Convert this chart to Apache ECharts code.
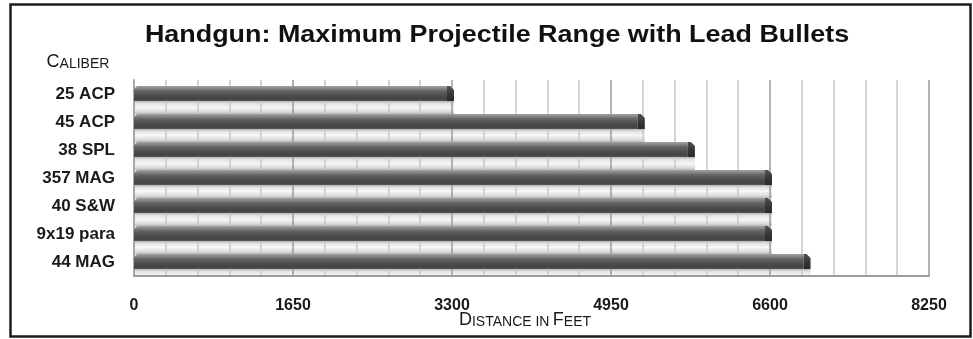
<!DOCTYPE html>
<html>
<head>
<meta charset="utf-8">
<script src="https://cdn.jsdelivr.net/npm/echarts@6/dist/echarts.min.js"></script>
<style>
  html, body { margin: 0; padding: 0; background: #fff; }
  #chart { width: 973px; height: 339px; }
</style>
</head>
<body>
<div id="chart"></div>
<script>
// Handgun calibers, top to bottom
const calibers = ['25 ACP', '45 ACP', '38 SPL', '357 MAG', '40 S&W', '9x19 para', '44 MAG'];
// Maximum projectile range, feet
const maxRangeFeet = [3300, 5280, 5800, 6600, 6600, 6600, 7000];
// Labelled ticks on the distance axis
const distanceTicks = [0, 1650, 3300, 4950, 6600, 8250];

const FONT = '"Liberation Sans", Arial, sans-serif';

const barData = maxRangeFeet.map((v, i) => [v, i]);

// Geometry of one bar slot relative to the category centre
function slotGeom(api) {
  const v = api.value(0), i = api.value(1);
  const start = api.coord([0, i]);
  const end = api.coord([v, i]);
  const slot = api.size([0, 1])[1];
  return {
    x0: start[0],
    xe: end[0] + 2,               // small depth offset of the 3D face
    top: end[1] - slot * 0.29,
    bot: end[1] + slot * 0.25,
    slot
  };
}

// Light reflective floor strip under each bar
function renderFloor(params, api) {
  const g = slotGeom(api);
  const cs = params.coordSys;
  const y1 = g.bot;
  let y2 = g.bot + g.slot * 0.46;
  const limit = cs.y + cs.height;
  const fullH = y2 - y1;
  if (y2 > limit) y2 = limit;
  return {
    type: 'rect',
    shape: { x: g.x0, y: y1, width: g.xe - g.x0, height: y2 - y1 },
    style: {
      fill: new echarts.graphic.LinearGradient(0, 0, 0, fullH / (y2 - y1), [
        { offset: 0, color: '#b0b0b0' },
        { offset: 0.18, color: '#e2e2e2' },
        { offset: 0.5, color: '#f6f6f6' },
        { offset: 0.82, color: '#dcdcdc' },
        { offset: 1, color: '#bababa' }
      ])
    },
    silent: true
  };
}

// Dark cylinder-like bar with a bevelled end face
function renderBar(params, api) {
  const g = slotGeom(api);
  const cap = 7, bev = 3;
  const bodyFill = new echarts.graphic.LinearGradient(0, 0, 0, 1, [
    { offset: 0, color: '#a2a2a2' },
    { offset: 0.16, color: '#878787' },
    { offset: 0.32, color: '#666666' },
    { offset: 0.6, color: '#505050' },
    { offset: 0.85, color: '#424242' },
    { offset: 1, color: '#565656' }
  ]);
  const capFill = new echarts.graphic.LinearGradient(0, 0, 0, 1, [
    { offset: 0, color: '#525252' },
    { offset: 0.5, color: '#383838' },
    { offset: 1, color: '#2a2a2a' }
  ]);
  return {
    type: 'group',
    children: [
      {
        type: 'polygon',
        shape: { points: [
          [g.x0, g.top + bev], [g.x0 + bev, g.top], [g.xe - cap, g.top],
          [g.xe - cap, g.bot], [g.x0, g.bot]
        ] },
        style: { fill: bodyFill }
      },
      {
        type: 'polygon',
        shape: { points: [
          [g.xe - cap, g.top], [g.xe - 4, g.top], [g.xe, g.top + 4],
          [g.xe, g.bot], [g.xe - cap, g.bot]
        ] },
        style: { fill: capFill }
      }
    ]
  };
}

const smallCaps = {
  a: { fontFamily: FONT, fontSize: 18, fill: '#1a1a1a', verticalAlign: 'bottom' },
  b: { fontFamily: FONT, fontSize: 14, fill: '#1a1a1a', verticalAlign: 'bottom' }
};

const chart = echarts.init(document.getElementById('chart'), null, { renderer: 'canvas' });

chart.setOption({
  animation: false,
  backgroundColor: '#ffffff',
  grid: { left: 134, right: 44, top: 80, bottom: 63, containLabel: false },
  xAxis: {
    type: 'value',
    z: 1,
    min: distanceTicks[0],
    max: distanceTicks[distanceTicks.length - 1],
    interval: distanceTicks[1] - distanceTicks[0],
    axisLine: { show: true, lineStyle: { color: '#9c9c9c', width: 2 } },
    axisTick: { show: false },
    axisLabel: {
      margin: 22,
      color: '#1a1a1a',
      fontFamily: FONT,
      fontWeight: 'bold',
      fontSize: 16,
      formatter: (v) => String(v)
    },
    splitLine: { show: true, lineStyle: { color: '#9a9a9a', width: 1.5 } },
    minorTick: { show: false, splitNumber: 5 },
    minorSplitLine: { show: true, lineStyle: { color: '#c8c8c8', width: 1.5 } }
  },
  yAxis: {
    type: 'category',
    z: 1,
    data: calibers,
    inverse: true,
    axisLine: { show: true, lineStyle: { color: '#a8a8a8', width: 2 } },
    axisTick: { show: false },
    axisLabel: {
      margin: 19,
      color: '#1a1a1a',
      fontFamily: FONT,
      fontWeight: 'bold',
      fontSize: 17
    },
    splitLine: { show: false }
  },
  series: [
    {
      type: 'custom',
      name: 'floor',
      z: 0,
      renderItem: renderFloor,
      encode: { x: 0, y: 1 },
      data: barData,
      silent: true
    },
    {
      type: 'custom',
      name: 'Maximum range',
      z: 2,
      renderItem: renderBar,
      encode: { x: 0, y: 1 },
      data: barData
    }
  ],
  graphic: [
    {
      type: 'rect',
      shape: { x: 10.5, y: 4.5, width: 960, height: 332 },
      style: { fill: 'none', stroke: '#1c1c1c', lineWidth: 2.5 },
      silent: true
    },
    {
      type: 'text',
      x: 497, y: 36,
      scaleX: 1.17,
      style: {
        text: 'Handgun: Maximum Projectile Range with Lead Bullets',
        fontFamily: FONT,
        fontWeight: 'bold',
        fontSize: 23,
        fill: '#111111',
        align: 'center',
        verticalAlign: 'middle'
      }
    },
    {
      type: 'text',
      x: 78, y: 62,
      style: {
        text: '{a|C}{b|ALIBER}',
        align: 'center',
        verticalAlign: 'middle',
        rich: smallCaps
      }
    },
    {
      type: 'text',
      x: 525, y: 320,
      style: {
        text: '{a|D}{b|ISTANCE IN} {a|F}{b|EET}',
        align: 'center',
        verticalAlign: 'middle',
        rich: smallCaps
      }
    }
  ]
});
</script>
</body>
</html>
